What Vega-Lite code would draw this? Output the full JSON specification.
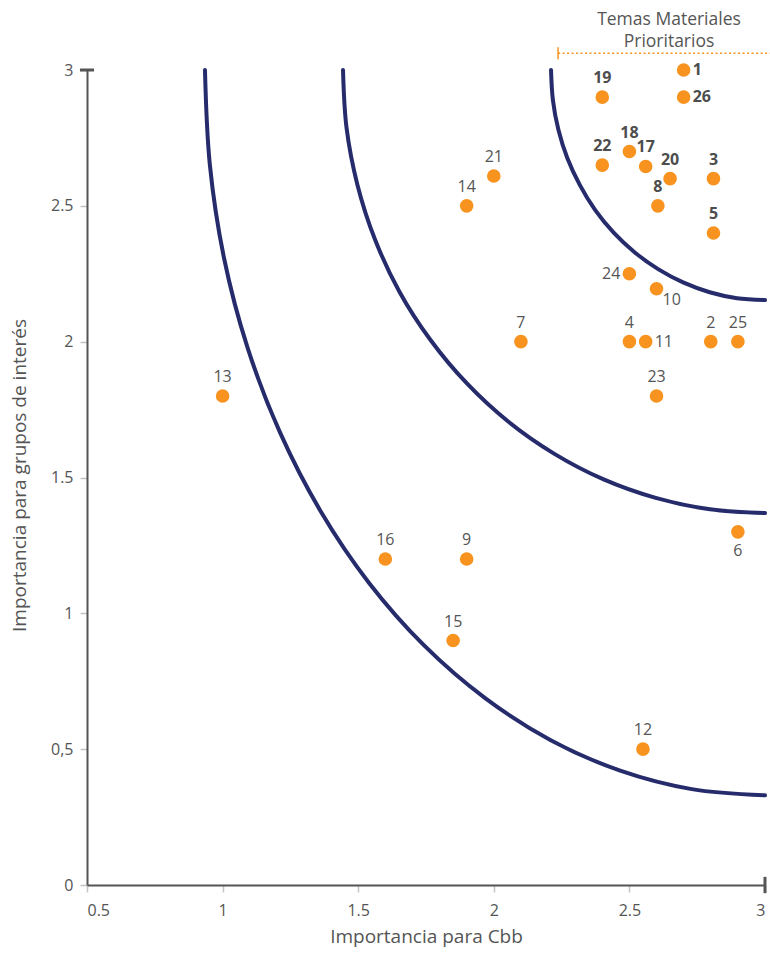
{
  "$schema": "https://vega.github.io/schema/vega-lite/v6.json",
  "width": 678,
  "height": 815,
  "autosize": {"type": "none"},
  "padding": {"left": 87, "top": 70, "right": 5, "bottom": 91},
  "background": "white",
  "config": {
    "view": {"stroke": null},
    "font": "Open Sans",
    "text": {"font": "Open Sans"}
  },
  "datasets": {
    "temas": [
      {"id": 1, "cbb": 2.7, "grupos": 3.0, "prioritario": true},
      {"id": 26, "cbb": 2.7, "grupos": 2.9, "prioritario": true},
      {"id": 19, "cbb": 2.4, "grupos": 2.9, "prioritario": true},
      {"id": 22, "cbb": 2.4, "grupos": 2.65, "prioritario": true},
      {"id": 18, "cbb": 2.5, "grupos": 2.7, "prioritario": true},
      {"id": 17, "cbb": 2.56, "grupos": 2.645, "prioritario": true},
      {"id": 20, "cbb": 2.65, "grupos": 2.6, "prioritario": true},
      {"id": 3, "cbb": 2.81, "grupos": 2.6, "prioritario": true},
      {"id": 8, "cbb": 2.605, "grupos": 2.5, "prioritario": true},
      {"id": 5, "cbb": 2.81, "grupos": 2.4, "prioritario": true},
      {"id": 24, "cbb": 2.5, "grupos": 2.25, "prioritario": false},
      {"id": 10, "cbb": 2.6, "grupos": 2.195, "prioritario": false},
      {"id": 21, "cbb": 2.0, "grupos": 2.61, "prioritario": false},
      {"id": 14, "cbb": 1.9, "grupos": 2.5, "prioritario": false},
      {"id": 7, "cbb": 2.1, "grupos": 2.0, "prioritario": false},
      {"id": 4, "cbb": 2.5, "grupos": 2.0, "prioritario": false},
      {"id": 11, "cbb": 2.56, "grupos": 2.0, "prioritario": false},
      {"id": 2, "cbb": 2.8, "grupos": 2.0, "prioritario": false},
      {"id": 25, "cbb": 2.9, "grupos": 2.0, "prioritario": false},
      {"id": 23, "cbb": 2.6, "grupos": 1.8, "prioritario": false},
      {"id": 13, "cbb": 1.0, "grupos": 1.8, "prioritario": false},
      {"id": 6, "cbb": 2.9, "grupos": 1.3, "prioritario": false},
      {"id": 16, "cbb": 1.6, "grupos": 1.2, "prioritario": false},
      {"id": 9, "cbb": 1.9, "grupos": 1.2, "prioritario": false},
      {"id": 15, "cbb": 1.85, "grupos": 0.9, "prioritario": false},
      {"id": 12, "cbb": 2.55, "grupos": 0.5, "prioritario": false}
    ],
    "curvas": [
      {"curva": "A", "k": 0, "cbb": 0.935, "grupos": 3.0},
      {"curva": "A", "k": 1, "cbb": 0.953, "grupos": 2.651},
      {"curva": "A", "k": 2, "cbb": 1.005, "grupos": 2.309},
      {"curva": "A", "k": 3, "cbb": 1.092, "grupos": 1.978},
      {"curva": "A", "k": 4, "cbb": 1.212, "grupos": 1.665},
      {"curva": "A", "k": 5, "cbb": 1.362, "grupos": 1.375},
      {"curva": "A", "k": 6, "cbb": 1.540, "grupos": 1.112},
      {"curva": "A", "k": 7, "cbb": 1.743, "grupos": 0.882},
      {"curva": "A", "k": 8, "cbb": 1.968, "grupos": 0.688},
      {"curva": "A", "k": 9, "cbb": 2.210, "grupos": 0.533},
      {"curva": "A", "k": 10, "cbb": 2.466, "grupos": 0.421},
      {"curva": "A", "k": 11, "cbb": 2.730, "grupos": 0.353},
      {"curva": "A", "k": 12, "cbb": 3.0, "grupos": 0.33},
      {"curva": "B", "k": 0, "cbb": 1.444, "grupos": 3.0},
      {"curva": "B", "k": 1, "cbb": 1.457, "grupos": 2.787},
      {"curva": "B", "k": 2, "cbb": 1.497, "grupos": 2.578},
      {"curva": "B", "k": 3, "cbb": 1.562, "grupos": 2.376},
      {"curva": "B", "k": 4, "cbb": 1.652, "grupos": 2.184},
      {"curva": "B", "k": 5, "cbb": 1.766, "grupos": 2.007},
      {"curva": "B", "k": 6, "cbb": 1.900, "grupos": 1.847},
      {"curva": "B", "k": 7, "cbb": 2.053, "grupos": 1.706},
      {"curva": "B", "k": 8, "cbb": 2.222, "grupos": 1.588},
      {"curva": "B", "k": 9, "cbb": 2.405, "grupos": 1.493},
      {"curva": "B", "k": 10, "cbb": 2.597, "grupos": 1.425},
      {"curva": "B", "k": 11, "cbb": 2.797, "grupos": 1.383},
      {"curva": "B", "k": 12, "cbb": 3.0, "grupos": 1.369},
      {"curva": "C", "k": 0, "cbb": 2.211, "grupos": 3.0},
      {"curva": "C", "k": 1, "cbb": 2.218, "grupos": 2.889},
      {"curva": "C", "k": 2, "cbb": 2.238, "grupos": 2.781},
      {"curva": "C", "k": 3, "cbb": 2.271, "grupos": 2.676},
      {"curva": "C", "k": 4, "cbb": 2.317, "grupos": 2.577},
      {"curva": "C", "k": 5, "cbb": 2.374, "grupos": 2.484},
      {"curva": "C", "k": 6, "cbb": 2.442, "grupos": 2.401},
      {"curva": "C", "k": 7, "cbb": 2.520, "grupos": 2.328},
      {"curva": "C", "k": 8, "cbb": 2.606, "grupos": 2.267},
      {"curva": "C", "k": 9, "cbb": 2.698, "grupos": 2.218},
      {"curva": "C", "k": 10, "cbb": 2.796, "grupos": 2.182},
      {"curva": "C", "k": 11, "cbb": 2.897, "grupos": 2.160},
      {"curva": "C", "k": 12, "cbb": 3.0, "grupos": 2.153}
    ],
    "anotacion": [
      {"cbb": 2.646, "grupos": 3.184, "texto": "Temas Materiales"},
      {"cbb": 2.646, "grupos": 3.103, "texto": "Prioritarios"}
    ],
    "linea": [
      {"cbb": 2.237, "cbb2": 3.018, "grupos": 3.062}
    ],
    "marca": [
      {"cbb": 2.237, "grupos": 3.04, "grupos2": 3.084}
    ],
    "topeY": [
      {"cbb": 0.474, "cbb2": 0.526, "grupos": 3.0}
    ],
    "topeX": [
      {"cbb": 3.0, "grupos": -0.03, "grupos2": 0.03}
    ]
  },
  "layer": [
    {
      "data": {"name": "curvas"},
      "mark": {"type": "line", "color": "#262b6c", "strokeWidth": 4, "strokeCap": "round", "interpolate": "catmull-rom"},
      "encoding": {
        "x": {
          "field": "cbb", "type": "quantitative",
          "scale": {"domain": [0.5, 3], "nice": false, "zero": false},
          "axis": {
            "values": [0.5, 1, 1.5, 2, 2.5, 3],
            "format": "~g",
            "title": "Importancia para Cbb",
            "grid": false,
            "domainColor": "#555555", "domainWidth": 2,
            "tickColor": "#c4c4c4", "tickSize": 7, "tickWidth": 1.5,
            "labelColor": "#555555", "labelFont": "Open Sans", "labelFontSize": 16, "labelPadding": 10,
            "titleColor": "#555555", "titleFont": "Open Sans", "titleFontSize": 19, "titleFontWeight": "normal",
            "titleX": 339, "titleY": 51, "titleBaseline": "middle", "titleAlign": "center"
          }
        },
        "y": {
          "field": "grupos", "type": "quantitative",
          "scale": {"domain": [0, 3], "nice": false, "zero": false},
          "axis": {
            "values": [0, 0.5, 1, 1.5, 2, 2.5, 3],
            "format": "~g",
            "labelExpr": "datum.value == 0.5 ? '0,5' : datum.label",
            "title": "Importancia para grupos de interés",
            "grid": false,
            "domainColor": "#555555", "domainWidth": 2,
            "tickColor": "#c4c4c4", "tickSize": 7, "tickWidth": 1.5,
            "labelColor": "#555555", "labelFont": "Open Sans", "labelFontSize": 16, "labelPadding": 7,
            "titleColor": "#555555", "titleFont": "Open Sans", "titleFontSize": 19, "titleFontWeight": "normal",
            "titleX": -68, "titleY": 405, "titleBaseline": "middle", "titleAlign": "center"
          }
        },
        "detail": {"field": "curva"},
        "order": {"field": "k", "type": "quantitative"}
      }
    },
    {
      "data": {"name": "topeY"},
      "mark": {"type": "rule", "color": "#555555", "strokeWidth": 3},
      "encoding": {
        "x": {"field": "cbb", "type": "quantitative"},
        "x2": {"field": "cbb2"},
        "y": {"field": "grupos", "type": "quantitative"}
      }
    },
    {
      "data": {"name": "topeX"},
      "mark": {"type": "rule", "color": "#555555", "strokeWidth": 3},
      "encoding": {
        "x": {"field": "cbb", "type": "quantitative"},
        "y": {"field": "grupos", "type": "quantitative"},
        "y2": {"field": "grupos2"}
      }
    },
    {
      "data": {"name": "linea"},
      "mark": {"type": "rule", "color": "#f7931e", "strokeWidth": 1.5, "strokeDash": [2, 2.5]},
      "encoding": {
        "x": {"field": "cbb", "type": "quantitative"},
        "x2": {"field": "cbb2"},
        "y": {"field": "grupos", "type": "quantitative"}
      }
    },
    {
      "data": {"name": "marca"},
      "mark": {"type": "rule", "color": "#f7931e", "strokeWidth": 1.5},
      "encoding": {
        "x": {"field": "cbb", "type": "quantitative"},
        "y": {"field": "grupos", "type": "quantitative"},
        "y2": {"field": "grupos2"}
      }
    },
    {
      "data": {"name": "anotacion"},
      "mark": {"type": "text", "color": "#555555", "fontSize": 17.5, "baseline": "middle", "align": "center"},
      "encoding": {
        "x": {"field": "cbb", "type": "quantitative"},
        "y": {"field": "grupos", "type": "quantitative"},
        "text": {"field": "texto"}
      }
    },
    {
      "data": {"name": "temas"},
      "mark": {"type": "point", "shape": "circle", "filled": true, "color": "#f7931e", "opacity": 1, "size": 185},
      "encoding": {
        "x": {"field": "cbb", "type": "quantitative"},
        "y": {"field": "grupos", "type": "quantitative"}
      }
    },
    {
      "data": {"name": "temas"},
      "transform": [{"filter": "!datum.prioritario && indexof([11, 24, 10, 6], datum.id) < 0"}],
      "mark": {"type": "text", "color": "#555555", "fontSize": 16, "baseline": "middle", "align": "center", "dy": -19},
      "encoding": {
        "x": {"field": "cbb", "type": "quantitative"},
        "y": {"field": "grupos", "type": "quantitative"},
        "text": {"field": "id"}
      }
    },
    {
      "data": {"name": "temas"},
      "transform": [{"filter": "datum.prioritario && indexof([1, 26], datum.id) < 0"}],
      "mark": {"type": "text", "color": "#4d4d4d", "fontSize": 16, "fontWeight": "bold", "baseline": "middle", "align": "center", "dy": -19},
      "encoding": {
        "x": {"field": "cbb", "type": "quantitative"},
        "y": {"field": "grupos", "type": "quantitative"},
        "text": {"field": "id"}
      }
    },
    {
      "data": {"name": "temas"},
      "transform": [{"filter": "indexof([1, 26], datum.id) >= 0"}],
      "mark": {"type": "text", "color": "#4d4d4d", "fontSize": 16, "fontWeight": "bold", "baseline": "middle", "align": "left", "dx": 9},
      "encoding": {
        "x": {"field": "cbb", "type": "quantitative"},
        "y": {"field": "grupos", "type": "quantitative"},
        "text": {"field": "id"}
      }
    },
    {
      "data": {"name": "temas"},
      "transform": [{"filter": "datum.id == 11"}],
      "mark": {"type": "text", "color": "#555555", "fontSize": 16, "baseline": "middle", "align": "left", "dx": 9},
      "encoding": {
        "x": {"field": "cbb", "type": "quantitative"},
        "y": {"field": "grupos", "type": "quantitative"},
        "text": {"field": "id"}
      }
    },
    {
      "data": {"name": "temas"},
      "transform": [{"filter": "datum.id == 24"}],
      "mark": {"type": "text", "color": "#555555", "fontSize": 16, "baseline": "middle", "align": "right", "dx": -9},
      "encoding": {
        "x": {"field": "cbb", "type": "quantitative"},
        "y": {"field": "grupos", "type": "quantitative"},
        "text": {"field": "id"}
      }
    },
    {
      "data": {"name": "temas"},
      "transform": [{"filter": "datum.id == 10"}],
      "mark": {"type": "text", "color": "#555555", "fontSize": 16, "baseline": "middle", "align": "left", "dx": 6, "dy": 11},
      "encoding": {
        "x": {"field": "cbb", "type": "quantitative"},
        "y": {"field": "grupos", "type": "quantitative"},
        "text": {"field": "id"}
      }
    },
    {
      "data": {"name": "temas"},
      "transform": [{"filter": "datum.id == 6"}],
      "mark": {"type": "text", "color": "#555555", "fontSize": 16, "baseline": "middle", "align": "center", "dy": 19},
      "encoding": {
        "x": {"field": "cbb", "type": "quantitative"},
        "y": {"field": "grupos", "type": "quantitative"},
        "text": {"field": "id"}
      }
    }
  ]
}
